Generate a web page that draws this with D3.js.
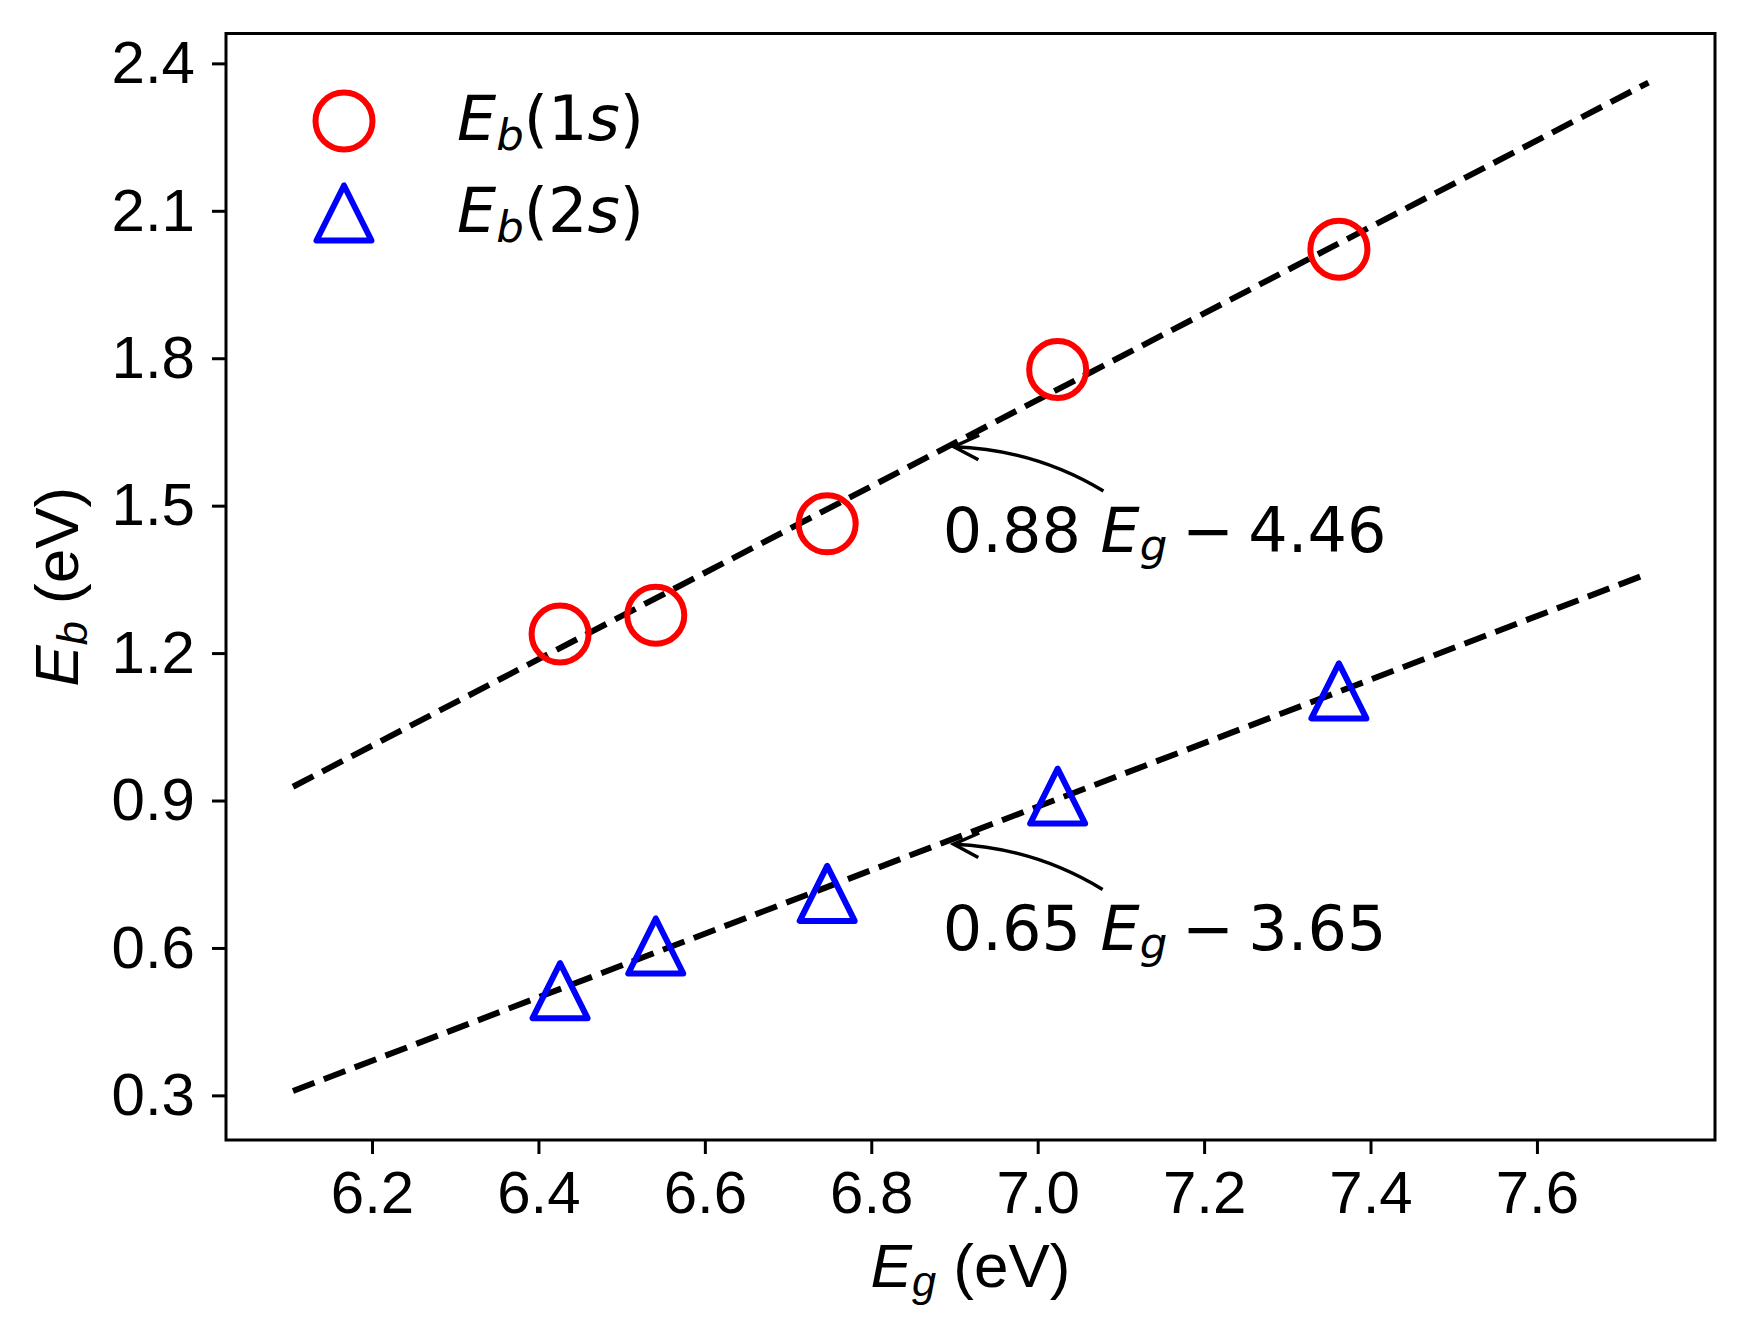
<!DOCTYPE html>
<html>
<head>
<meta charset="utf-8">
<script src="https://cdn.jsdelivr.net/npm/d3@7"></script>
<style>
  body { margin: 0; background: #fff; }
</style>
</head>
<body>
<div id="chart"></div>
<script>
// band gap of the five samples (eV)
var gapEnergies = [6.426, 6.541, 6.747, 7.024, 7.362];
// binding energies (eV)
var binding1s = [1.239, 1.277, 1.463, 1.777, 2.022];
var binding2s = [0.513, 0.604, 0.711, 0.909, 1.123];

// linear fits, end points of the dashed lines
var fitGap = [6.105, 7.734];
var fit1s = [0.928, 2.361];
var fit2s = [0.309, 1.362];

var xTicks = [6.2, 6.4, 6.6, 6.8, 7.0, 7.2, 7.4, 7.6];
var yTicks = [0.3, 0.6, 0.9, 1.2, 1.5, 1.8, 2.1, 2.4];

// fit annotations: slope, intercept, arrow tip, text anchor, arrow tail
var noteSlopes = ["0.88", "0.65"];
var noteOffsets = ["4.46", "3.65"];
var noteTips = [[6.899, 1.620], [6.899, 0.811]];
var noteAnchors = [[6.886, 1.406], [6.886, 0.596]];
var noteTails = [[7.079, 1.530], [7.078, 0.719]];

var legendLabels = ["1", "2"];

// figure dimensions
var width = 1747, height = 1344;
var margin = {top: 33.5, right: 32, bottom: 204, left: 226};
var plotW = width - margin.left - margin.right,
    plotH = height - margin.top - margin.bottom;

var svg = d3.select("#chart")
            .append("svg")
            .attr("width", width)
            .attr("height", height);

var g = svg.append("g")
           .attr("transform", "translate(" + margin.left + "," + margin.top + ")");

// scales (limits as in the original, 5% padding round the fits)
var x = d3.scaleLinear()
          .domain([6.0245, 7.814])
          .range([0, plotW]);

var y = d3.scaleLinear()
          .domain([0.2092, 2.4608])
          .range([plotH, 0]);

// axes
var xAxis = g.append("g")
             .attr("transform", "translate(0," + plotH + ")")
             .call(d3.axisBottom(x).tickValues(xTicks).tickFormat(d3.format(".1f"))
                     .tickSize(14).tickPadding(16));

var yAxis = g.append("g")
             .call(d3.axisLeft(y).tickValues(yTicks).tickFormat(d3.format(".1f"))
                     .tickSize(14).tickPadding(17));

[xAxis, yAxis].forEach(function(ax) {
    ax.select(".domain").remove();
    ax.selectAll(".tick line").attr("stroke", "#000").attr("stroke-width", 3);
    ax.selectAll(".tick text")
      .attr("fill", "#000")
      .style("font-family", "'Liberation Sans', Arial, sans-serif")
      .style("font-size", "60px");
});

// frame
g.append("rect")
 .attr("width", plotW)
 .attr("height", plotH)
 .attr("fill", "none")
 .attr("stroke", "#000")
 .attr("stroke-width", 3);

// fitted lines
var line = d3.line()
             .x(function(d) { return x(d[0]); })
             .y(function(d) { return y(d[1]); });

[fit1s, fit2s].forEach(function(fit) {
    g.append("path")
     .attr("d", line(d3.zip(fitGap, fit)))
     .attr("fill", "none")
     .attr("stroke", "#000")
     .attr("stroke-width", 6)
     .attr("stroke-dasharray", "23,10");
});

// markers
var circleR = 28.5, triHalf = 27.5;
function triangle(cx, cy) {
    return "M" + cx + "," + (cy - triHalf) +
           "L" + (cx - triHalf) + "," + (cy + triHalf) +
           "L" + (cx + triHalf) + "," + (cy + triHalf) + "Z";
}

g.selectAll(".p1s")
 .data(d3.zip(gapEnergies, binding1s))
 .enter().append("circle")
 .attr("class", "p1s")
 .attr("cx", function(d) { return x(d[0]); })
 .attr("cy", function(d) { return y(d[1]); })
 .attr("r", circleR)
 .attr("fill", "none")
 .attr("stroke", "#ff0000")
 .attr("stroke-width", 6);

g.selectAll(".p2s")
 .data(d3.zip(gapEnergies, binding2s))
 .enter().append("path")
 .attr("class", "p2s")
 .attr("d", function(d) { return triangle(x(d[0]), y(d[1])); })
 .attr("fill", "none")
 .attr("stroke", "#0000ff")
 .attr("stroke-width", 6)
 .attr("stroke-linejoin", "round");

// annotations with curved arrows
var mathFont = "'DejaVu Sans', sans-serif";
noteSlopes.forEach(function(s, i) {
    var p2 = [x(noteTips[i][0]), y(noteTips[i][1])],
        p0 = [x(noteTails[i][0]), y(noteTails[i][1])];
    var dx = p2[0] - p0[0], dy = p2[1] - p0[1], f = 0.13;
    var c = [(p0[0] + p2[0]) / 2 - dy * f, (p0[1] + p2[1]) / 2 + dx * f];

    g.append("path")
     .attr("d", "M" + p0 + "Q" + c + " " + p2)
     .attr("fill", "none")
     .attr("stroke", "#000")
     .attr("stroke-width", 3.5);

    // open arrow head
    var ang = Math.atan2(c[1] - p2[1], c[0] - p2[0]),
        hl = 28, spread = 26 * Math.PI / 180;
    var b1 = [p2[0] + hl * Math.cos(ang + spread), p2[1] + hl * Math.sin(ang + spread)],
        b2 = [p2[0] + hl * Math.cos(ang - spread), p2[1] + hl * Math.sin(ang - spread)];
    g.append("path")
     .attr("d", "M" + b1 + "L" + p2 + "L" + b2)
     .attr("fill", "none")
     .attr("stroke", "#000")
     .attr("stroke-width", 3.5);

    var t = g.append("text")
             .attr("x", x(noteAnchors[i][0]))
             .attr("y", y(noteAnchors[i][1]))
             .style("font-family", mathFont)
             .style("font-size", "62px")
             .attr("fill", "#000");
    t.append("tspan").text(s + " ");
    t.append("tspan").attr("font-style", "italic").text("E");
    t.append("tspan").attr("font-style", "italic").attr("font-size", "70%").attr("dy", 8).text("g");
    t.append("tspan").attr("dy", -8).attr("dx", 15).text("\u2212");
    t.append("tspan").attr("dx", 14).text(noteOffsets[i]);
});

// legend
var legend = g.append("g").attr("transform", "translate(118,0)");
legendLabels.forEach(function(n, i) {
    var my = 87.5 + i * 92;
    if (i === 0) {
        legend.append("circle").attr("cx", 0).attr("cy", my).attr("r", circleR)
              .attr("fill", "none").attr("stroke", "#ff0000").attr("stroke-width", 6);
    } else {
        legend.append("path").attr("d", triangle(0, my))
              .attr("fill", "none").attr("stroke", "#0000ff").attr("stroke-width", 6)
              .attr("stroke-linejoin", "round");
    }
    var t = legend.append("text")
                  .attr("x", 113)
                  .attr("y", my + 19)
                  .style("font-family", mathFont)
                  .style("font-size", "62px")
                  .attr("fill", "#000");
    t.append("tspan").attr("font-style", "italic").text("E");
    t.append("tspan").attr("font-style", "italic").attr("font-size", "70%").attr("dy", 10).text("b");
    t.append("tspan").attr("dy", -10).text("(" + n);
    t.append("tspan").attr("font-style", "italic").text("s");
    t.append("tspan").text(")");
});

// axis labels
var labelFont = "'Liberation Sans', Arial, sans-serif";
var xl = svg.append("text")
            .attr("x", margin.left + plotW / 2)
            .attr("y", 1286.5)
            .attr("text-anchor", "middle")
            .style("font-family", labelFont)
            .style("font-size", "62px");
xl.append("tspan").attr("font-style", "italic").text("E");
xl.append("tspan").attr("font-style", "italic").attr("font-size", "70%").attr("dy", 9).text("g");
xl.append("tspan").attr("dy", -9).text(" (eV)");

var yl = svg.append("text")
            .attr("transform", "translate(78," + (margin.top + plotH / 2) + ") rotate(-90)")
            .attr("text-anchor", "middle")
            .style("font-family", labelFont)
            .style("font-size", "62px");
yl.append("tspan").attr("font-style", "italic").text("E");
yl.append("tspan").attr("font-style", "italic").attr("font-size", "70%").attr("dy", 9).text("b");
yl.append("tspan").attr("dy", -9).text(" (eV)");
</script>
</body>
</html>
